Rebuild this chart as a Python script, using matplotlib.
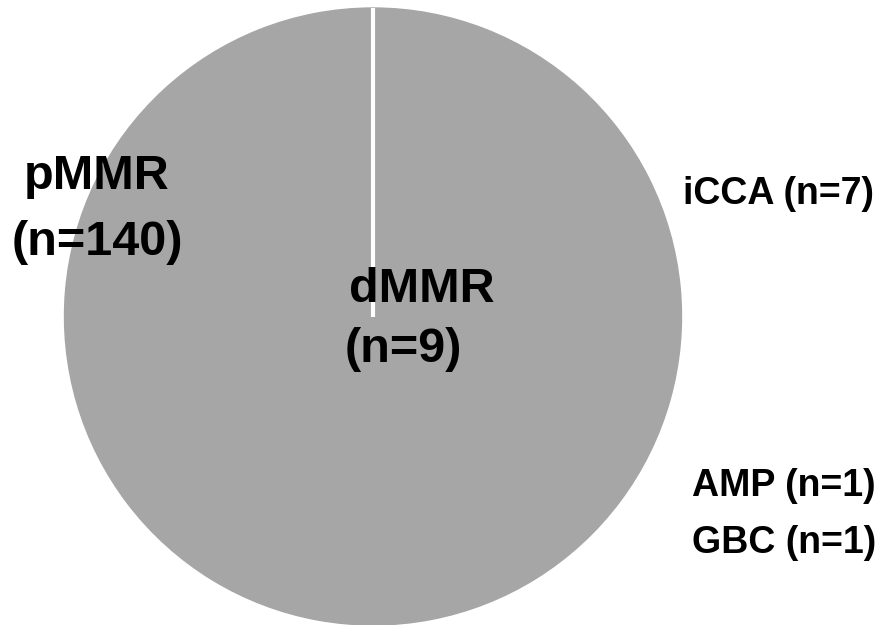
import matplotlib
matplotlib.use("Agg")
import matplotlib.pyplot as plt
import numpy as np

plt.rcParams['font.family'] = ['Liberation Sans', 'DejaVu Sans']

# MMR status counts
groups = ['pMMR', 'dMMR']
counts = [140, 9]
# dMMR breakdown by tumour site
sites = ['iCCA', 'AMP', 'GBC']
site_counts = [7, 1, 1]

W, H = 878, 625
fig = plt.figure(figsize=(W / 100, H / 100), dpi=100)
ax = fig.add_axes([0, 0, 1, 1])

grey = '#A6A6A6'
cx, cy, r = 373, H - 316.5, 308.5
start = 90
ax.pie(counts, colors=[grey, grey], startangle=start,
       counterclock=False, center=(cx, cy), radius=r,
       wedgeprops=dict(linewidth=1, edgecolor=grey))

# white divider at the start of the pie
a = np.deg2rad(start)
ax.plot([cx, cx + r * np.cos(a)], [cy, cy + r * np.sin(a)],
        color='white', lw=3, solid_capstyle='butt')

ax.set_xlim(0, W)
ax.set_ylim(0, H)
ax.set_aspect('auto')
ax.axis('off')

bold = dict(fontweight='bold', color='black')
ax.text(97, H - 189, groups[0], ha='center', va='baseline', fontsize=35, **bold)
ax.text(97, H - 255, f'(n={counts[0]})', ha='center', va='baseline', fontsize=35, **bold)
ax.text(349, H - 302, groups[1], ha='left', va='baseline', fontsize=35, **bold)
ax.text(345, H - 362, f'(n={counts[1]})', ha='left', va='baseline', fontsize=35, **bold)

site_pos = [(683, 204), (692, 496), (692, 553)]
for s, n, (x, y) in zip(sites, site_counts, site_pos):
    ax.text(x, H - y, f'{s} (n={n})', ha='left', va='baseline', fontsize=27, **bold)

fig.savefig('out.png', dpi=100)
